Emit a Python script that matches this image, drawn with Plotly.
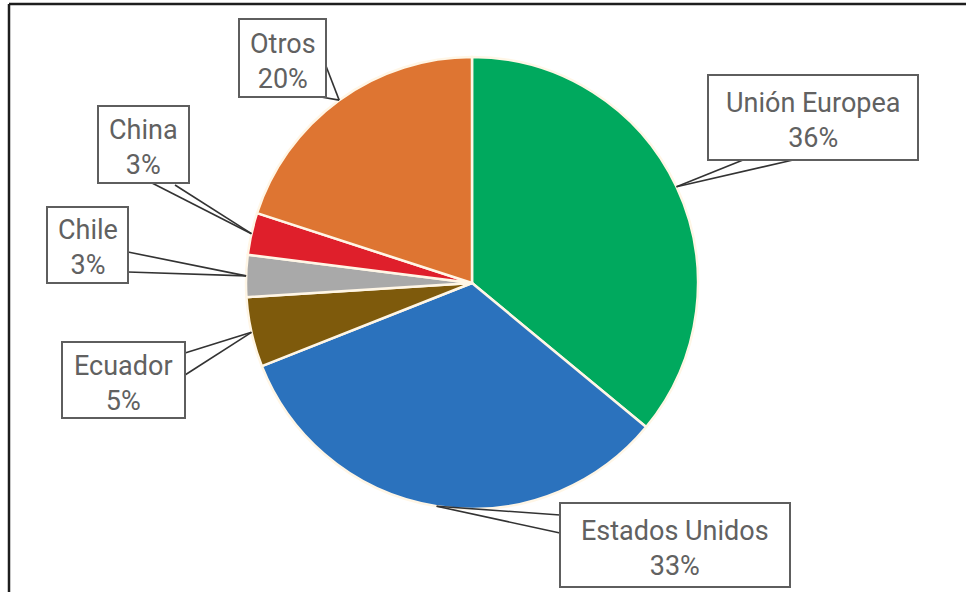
import math
import plotly.graph_objects as go

# Destination shares (%), clockwise from 12 o'clock
labels = ["Unión Europea", "Estados Unidos", "Ecuador", "Chile", "China", "Otros"]
values = [36, 33, 5, 3, 3, 20]
colors = ["#00A95E", "#2B72BD", "#7E5A0C", "#A9A9A9", "#DF1F2B", "#DE7532"]

W, H = 966, 592

# pie placement in pixels
CX, CY, R = 472, 283, 226

# label boxes (left, top, right, bottom) in pixels, and leader attach points
boxes = {
    "Unión Europea": ((708, 75, 918, 160), [(743, 160), (793, 160)]),
    "Estados Unidos": ((560, 503, 790, 587), [(560, 515), (560, 533)]),
    "Ecuador": ((62, 342, 185, 418), [(185, 353), (185, 375)]),
    "Chile": ((47, 207, 128, 283), [(128, 252), (128, 272)]),
    "China": ((98, 106, 189, 183), [(152, 183), (175, 185)]),
    "Otros": ((239, 19, 326, 97), [(326, 66), (321, 97)]),
}


def px(x):
    return x / W


def py(y):
    return 1 - y / H


fig = go.Figure(
    go.Pie(
        labels=labels,
        values=values,
        sort=False,
        direction="clockwise",
        rotation=0,
        marker=dict(colors=colors, line=dict(color="#FFF6E6", width=2.5)),
        textinfo="none",
        hoverinfo="label+percent",
        domain=dict(
            x=[px(CX - R), px(CX + R)],
            y=[py(CY + R), py(CY - R)],
        ),
        showlegend=False,
    )
)

shapes = []
annotations = []
total = sum(values)
cum = 0
for lab, val in zip(labels, values):
    mid = (cum + val / 2) / total * 2 * math.pi
    cum += val
    tx = CX + R * math.sin(mid)
    ty = CY - R * math.cos(mid)
    (l, t, r, b), attach = boxes[lab]
    # callout leader lines
    for ax, ay in attach:
        shapes.append(dict(
            type="line", xref="paper", yref="paper",
            x0=px(ax), y0=py(ay), x1=px(tx), y1=py(ty),
            line=dict(color="#333333", width=1.6),
        ))
    # label box
    shapes.append(dict(
        type="rect", xref="paper", yref="paper",
        x0=px(l), y0=py(b), x1=px(r), y1=py(t),
        line=dict(color="#5E5E5E", width=2),
        fillcolor="white",
    ))
    annotations.append(dict(
        xref="paper", yref="paper",
        x=px((l + r) / 2), y=py((t + b) / 2 + 3),
        text=f"{lab}<br>{val}%",
        showarrow=False,
        xanchor="center", yanchor="middle",
        font=dict(family="Roboto", size=27, color="#616161"),
    ))

# frame lines along the top and left edges
shapes.append(dict(type="line", xref="paper", yref="paper",
                   x0=px(9), y0=py(4), x1=1, y1=py(4),
                   line=dict(color="#1E1E1E", width=2.5)))
shapes.append(dict(type="line", xref="paper", yref="paper",
                   x0=px(9), y0=py(4), x1=px(9), y1=0,
                   line=dict(color="#1E1E1E", width=2.5)))

fig.update_layout(
    width=W, height=H,
    margin=dict(l=0, r=0, t=0, b=0),
    paper_bgcolor="white",
    plot_bgcolor="white",
    shapes=shapes,
    annotations=annotations,
)

fig.write_html("out.html")
